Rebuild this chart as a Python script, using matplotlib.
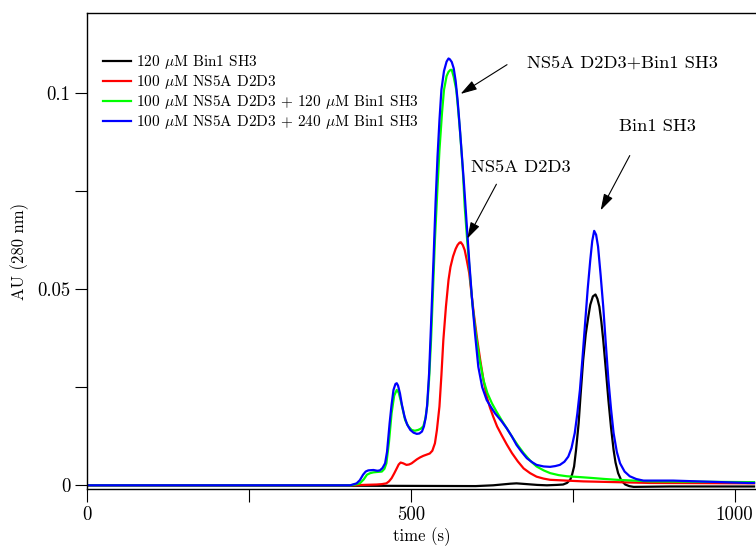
import matplotlib
matplotlib.use("Agg")
import matplotlib.pyplot as plt

plt.rcParams['font.family'] = 'cmr10'
plt.rcParams['mathtext.fontset'] = 'cm'
plt.rcParams['axes.formatter.use_mathtext'] = True

# elution profiles (time in s, absorbance at 280 nm)
t_blue = [0, 406, 416, 421, 426, 430, 434, 442, 448, 452, 456, 460, 463, 467, 470, 473, 476, 478,
          480, 483, 486, 490, 494, 499, 504, 509, 513, 517, 520, 523, 525, 528, 531, 535, 538, 541,
          544, 547, 551, 555, 558, 560, 563, 566, 569, 572, 575, 578, 582, 586, 590, 594, 599, 604,
          610, 617, 624, 630, 640, 648, 656, 663, 671, 679, 687, 694, 705, 715, 723, 730, 737, 743,
          748, 753, 757, 761, 765, 769, 773, 777, 780, 783, 786, 789, 793, 797, 801, 805, 809, 813,
          818, 823, 830, 838, 848, 859, 905, 1020, 1030]
y_blue = [0, 0, 0.0005, 0.0013, 0.0027, 0.0035, 0.0038, 0.0039, 0.0037, 0.0038, 0.0044, 0.0056,
          0.0085, 0.0158, 0.0205, 0.0243, 0.0258, 0.0260, 0.0254, 0.0234, 0.0205, 0.0175, 0.0155,
          0.0141, 0.0134, 0.0131, 0.0132, 0.0137, 0.0150, 0.0175, 0.0205, 0.0285, 0.0410, 0.0583,
          0.0720, 0.0837, 0.0930, 0.1007, 0.1055, 0.1079, 0.1087, 0.1085, 0.1078, 0.1062, 0.1030,
          0.0981, 0.0920, 0.0854, 0.0765, 0.0667, 0.0570, 0.0481, 0.0385, 0.0302, 0.0250, 0.0217,
          0.0198, 0.0183, 0.0163, 0.0145, 0.0124, 0.0103, 0.0085, 0.0069, 0.0059, 0.0052, 0.0048,
          0.0047, 0.0049, 0.0052, 0.0060, 0.0073, 0.0095, 0.0133, 0.0183, 0.0243, 0.0325, 0.0413,
          0.0500, 0.0574, 0.0622, 0.0648, 0.0638, 0.0608, 0.0535, 0.0455, 0.0360, 0.0268, 0.0195,
          0.0133, 0.0085, 0.0056, 0.0035, 0.0023, 0.0016, 0.0012, 0.0012, 0.0006, 0.0006]

t_green = [0, 406, 414, 421, 427, 432, 437, 442, 448, 455, 459, 462, 466, 470, 474, 478, 481, 484,
           488, 491, 496, 501, 506, 511, 515, 519, 522, 525, 528, 531, 534, 537, 541, 544, 548, 551,
           555, 558, 561, 563, 566, 570, 573, 576, 580, 583, 587, 591, 595, 600, 606, 612, 618, 625,
           632, 640, 648, 656, 665, 674, 684, 694, 705, 715, 728, 741, 760, 777, 800, 818, 845, 869,
           950, 1030]
y_green = [0, 0, 0.0002, 0.0005, 0.0015, 0.0027, 0.0031, 0.0033, 0.0034, 0.0035, 0.0042, 0.0056,
           0.0110, 0.0183, 0.0228, 0.0243, 0.0236, 0.0217, 0.0188, 0.0166, 0.0150, 0.0141, 0.0139,
           0.0141, 0.0144, 0.0150, 0.0168, 0.0201, 0.0270, 0.0370, 0.0495, 0.0625, 0.0760, 0.0854,
           0.0950, 0.1007, 0.1042, 0.1053, 0.1058, 0.1058, 0.1040, 0.1007, 0.0955, 0.0896, 0.0805,
           0.0710, 0.0620, 0.0540, 0.0460, 0.0387, 0.0320, 0.0268, 0.0235, 0.0209, 0.0188, 0.0166,
           0.0145, 0.0124, 0.0102, 0.0082, 0.0063, 0.0048, 0.0038, 0.0031, 0.0026, 0.0023, 0.0021,
           0.0019, 0.0016, 0.0014, 0.0012, 0.0010, 0.0009, 0.0008]

t_red = [0, 406, 447, 455, 462, 466, 470, 474, 478, 481, 484, 488, 493, 497, 501, 505, 509, 514,
         519, 524, 529, 533, 537, 540, 544, 547, 550, 554, 558, 561, 565, 569, 572, 575, 577, 580,
         583, 586, 590, 593, 597, 602, 607, 612, 617, 622, 627, 633, 640, 648, 656, 665, 674, 684,
         694, 705, 715, 740, 766, 818, 869, 1030]
y_red = [0, 0, 0.0002, 0.0003, 0.0005, 0.0010, 0.0018, 0.0030, 0.0043, 0.0053, 0.0058, 0.0056,
         0.0052, 0.0053, 0.0056, 0.0061, 0.0066, 0.0071, 0.0075, 0.0078, 0.0081, 0.0088, 0.0107,
         0.0140, 0.0201, 0.0280, 0.0370, 0.0455, 0.0523, 0.0556, 0.0583, 0.0602, 0.0612, 0.0618,
         0.0619, 0.0612, 0.0599, 0.0575, 0.0540, 0.0495, 0.0438, 0.0375, 0.0319, 0.0268, 0.0226,
         0.0198, 0.0175, 0.0150, 0.0128, 0.0104, 0.0082, 0.0061, 0.0043, 0.0031, 0.0022, 0.0017,
         0.0014, 0.0012, 0.0010, 0.0008, 0.0006, 0.0005]

t_black = [0, 400, 600, 627, 640, 653, 663, 671, 679, 695, 710, 725, 735, 741, 746, 749, 752, 755,
           759, 762, 766, 770, 774, 777, 781, 785, 788, 791, 794, 797, 801, 805, 809, 813, 816, 820,
           825, 831, 837, 844, 900, 1030]
y_black = [0, -0.0001, -0.0002, 0, 0.0002, 0.0004, 0.0005, 0.0004, 0.0003, 0.0001, 0, 0.0001,
           0.0002, 0.0006, 0.0014, 0.0028, 0.0048, 0.0090, 0.0158, 0.0230, 0.0319, 0.0385, 0.0430,
           0.0460, 0.0481, 0.0486, 0.0475, 0.0455, 0.0418, 0.0370, 0.0295, 0.0217, 0.0148, 0.0090,
           0.0058, 0.0031, 0.0012, 0.0002, -0.0002, -0.0004, -0.0003, -0.0003]

labels = [r'120 $\mu$M Bin1 SH3', r'100 $\mu$M NS5A D2D3',
          r'100 $\mu$M NS5A D2D3 + 120 $\mu$M Bin1 SH3',
          r'100 $\mu$M NS5A D2D3 + 240 $\mu$M Bin1 SH3']

fig = plt.figure(figsize=(7.56, 5.46), dpi=100)
ax = fig.add_axes([0.1155, 0.1044, 0.8845, 0.8712])

kw = dict(lw=1.6, solid_joinstyle='round')
ax.plot(t_black, y_black, color='black', label=labels[0], **kw)
ax.plot(t_red, y_red, color='#ff0000', label=labels[1], **kw)
ax.plot(t_green, y_green, color='#00ff00', label=labels[2], **kw)
ax.plot(t_blue, y_blue, color='#0000ff', label=labels[3], **kw)

ax.set_xlim(0, 1033)
ax.set_ylim(-0.00094, 0.1202)
ax.set_xticks([0, 250, 500, 750, 1000])
ax.set_xticklabels(['0', '', '500', '', '1000'])
ax.set_yticks([0, 0.025, 0.05, 0.075, 0.1])
ax.set_yticklabels(['0', '', '0.05', '', '0.1'])
ax.tick_params(direction='out', length=9, width=0.8, labelsize=13.5, pad=3)
ax.spines['right'].set_visible(False)
for s in ['left', 'top', 'bottom']:
    ax.spines[s].set_linewidth(1.0)

ax.set_xlabel('time (s)', fontsize=12, labelpad=3)
ax.set_ylabel('AU (280 nm)', fontsize=12, labelpad=6)

ax.legend(loc='upper left', bbox_to_anchor=(0.0145, 0.9296), frameon=False, fontsize=11,
          handlelength=1.85, handletextpad=0.3, labelspacing=0.14, borderaxespad=0)

arrow = dict(arrowstyle='-|>,head_length=0.5,head_width=0.15', color='black', lw=0.8,
             mutation_scale=20)
ax.annotate('', xy=(573, 0.0993), xytext=(652, 0.1075), arrowprops=arrow)
ax.text(679, 0.1076, 'NS5A D2D3+Bin1 SH3', fontsize=13.3, ha='left', va='center')
ax.annotate('', xy=(585, 0.0622), xytext=(634, 0.0773), arrowprops=arrow)
ax.text(592, 0.0809, 'NS5A D2D3', fontsize=13.3, ha='left', va='center')
ax.annotate('', xy=(791, 0.0694), xytext=(840, 0.0846), arrowprops=arrow)
ax.text(822, 0.0913, 'Bin1 SH3', fontsize=13.3, ha='left', va='center')

fig.savefig('out.png', dpi=100)
